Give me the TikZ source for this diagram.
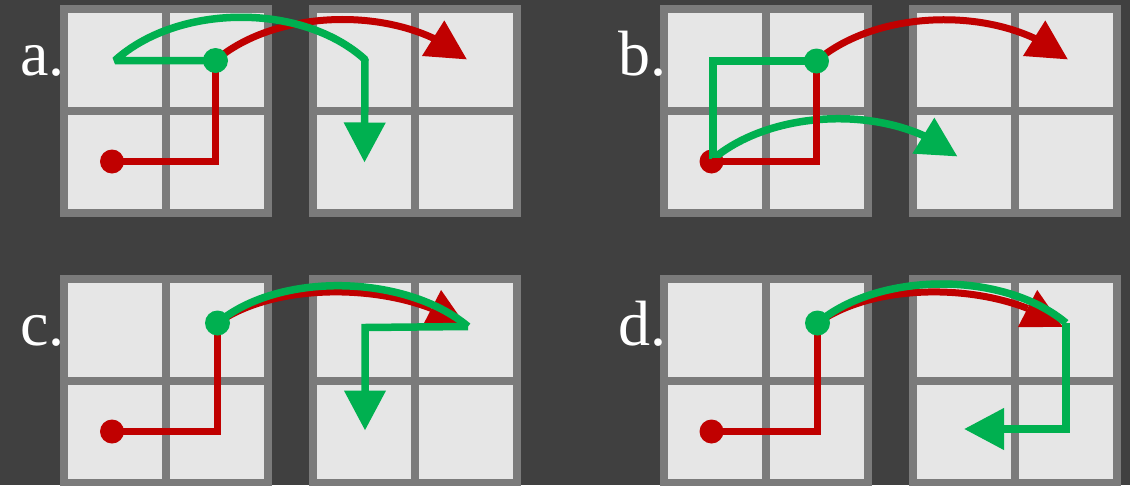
\documentclass[tikz,border=0pt]{standalone}
\usepackage{fontspec}
\setmainfont{Liberation Serif}
\newfontfamily\labelfont{Liberation Serif}
\usetikzlibrary{arrows.meta,bending}

\definecolor{bg}{HTML}{404040}
\definecolor{gridframe}{HTML}{7B7B7B}
\definecolor{cellfill}{HTML}{E6E6E6}
\definecolor{pathred}{HTML}{C00000}
\definecolor{pathgreen}{HTML}{00B050}

\tikzset{
  % 2x2 board: grey frame with four light cells
  cellgrid/.pic={
    \fill[gridframe] (0,0) rectangle (212,212);
    \foreach \cx in {8,110}
      \foreach \cy in {8,110}
        \fill[cellfill] (\cx,\cy) rectangle ++(94,94);
  },
  redline/.style={draw=pathred, line width=7pt},
  greenline/.style={draw=pathgreen, line width=7.5pt},
  bighead/.style={-{Triangle[length=40pt,width=40pt]}},
  reddot/.style={circle, fill=pathred, minimum size=24pt, inner sep=0pt},
  greendot/.style={circle, fill=pathgreen, minimum size=25pt, inner sep=0pt},
  panellabel/.style={text=white, font=\labelfont\fontsize{64}{64}\selectfont,
                     anchor=base west, inner sep=0pt},
}

\begin{document}
\begin{tikzpicture}[x=1pt, y=-1pt]
  \useasboundingbox (0,0) rectangle (1130,485);
  \clip (0,0) rectangle (1130,485);
  \fill[bg] (0,0) rectangle (1130,485);

  % boards
  \foreach \ox/\oy in {60/5, 309/5, 660/5, 909/5, 60/275, 309/275, 660/275, 909/275}
    \pic at (\ox,\oy) {cellgrid};

  % panel labels
  \node[panellabel] (labA) at (20,75)  {a.};
  \node[panellabel] (labB) at (618,75) {b.};
  \node[panellabel] (labC) at (20,345) {c.};
  \node[panellabel] (labD) at (618,345) {d.};

  % ---------------- panel a ----------------
  \coordinate (aS) at (112,161.5);
  \coordinate (aK) at (215.5,161.5);
  \coordinate (aT) at (215.5,60.5);
  \coordinate (aR) at (467,59.5);
  \coordinate (aL) at (115,60.5);
  \coordinate (aB) at (365,59.5);
  \coordinate (aE) at (364.5,162.5);
  \draw[redline] (aS) -- (aK) -- (aT);
  \draw[redline, bighead] (aT) .. controls +(63,-54) and +(-63,-54) .. (aR);
  \draw[greenline, line join=bevel, bighead]
    (aT) -- (aL) .. controls +(63,-57) and +(-63,-57) .. (aB) -- (aE);
  \node[reddot] (aStart) at (aS) {};
  \node[greendot] (aTurn) at (aT) {};

  % ---------------- panel b ----------------
  \coordinate (bS) at (711.5,161.5);
  \coordinate (bK) at (816.5,161.5);
  \coordinate (bT) at (816.5,61);
  \coordinate (bR) at (1068,59.5);
  \coordinate (bL) at (713,61);
  \coordinate (bD) at (713,159);
  \coordinate (bE) at (957.5,156.5);
  \node[reddot] (bStart) at (bS) {};
  \draw[greenline] (bT) -- (bL) -- (bD);
  \draw[greenline, bighead] (bD) .. controls +(62,-52) and +(-62,-52) .. (bE);
  \draw[redline] (bS) -- (bK) -- (bT);
  \draw[redline, bighead] (bT) .. controls +(63,-54) and +(-63,-54) .. (bR);
  \node[greendot] (bTurn) at (bT) {};

  % ---------------- panel c ----------------
  \coordinate (cS) at (112,431.5);
  \coordinate (cK) at (217.5,431.5);
  \coordinate (cT) at (217.5,323);
  \coordinate (cR) at (467,327);
  \coordinate (cB) at (468,326.5);
  \coordinate (cM) at (365,327.5);
  \coordinate (cE) at (365,430.5);
  \draw[redline] (cS) -- (cK) -- (cT);
  \draw[redline, bighead] (cT) .. controls +(62,-44) and +(-62,-44) .. (cR);
  \draw[greenline] (cT) .. controls +(62,-52) and +(-62,-52) .. (cB);
  \draw[greenline, bighead] (cB) -- (cM) -- (cE);
  \node[reddot] (cStart) at (cS) {};
  \node[greendot] (cTurn) at (cT) {};

  % ---------------- panel d ----------------
  \coordinate (dS) at (711.5,431.5);
  \coordinate (dK) at (817.5,431.5);
  \coordinate (dT) at (817.5,323);
  \coordinate (dR) at (1063,327);
  \coordinate (dB) at (1066,323);
  \coordinate (dD) at (1066,429);
  \coordinate (dE) at (964,429);
  \draw[redline] (dS) -- (dK) -- (dT);
  \draw[redline, bighead] (dT) .. controls +(62,-44) and +(-62,-44) .. (dR);
  \draw[greenline] (dT) .. controls +(62,-52) and +(-62,-52) .. (dB);
  \draw[greenline, bighead] (dB) -- (dD) -- (dE);
  \node[reddot] (dStart) at (dS) {};
  \node[greendot] (dTurn) at (dT) {};
\end{tikzpicture}
\end{document}
